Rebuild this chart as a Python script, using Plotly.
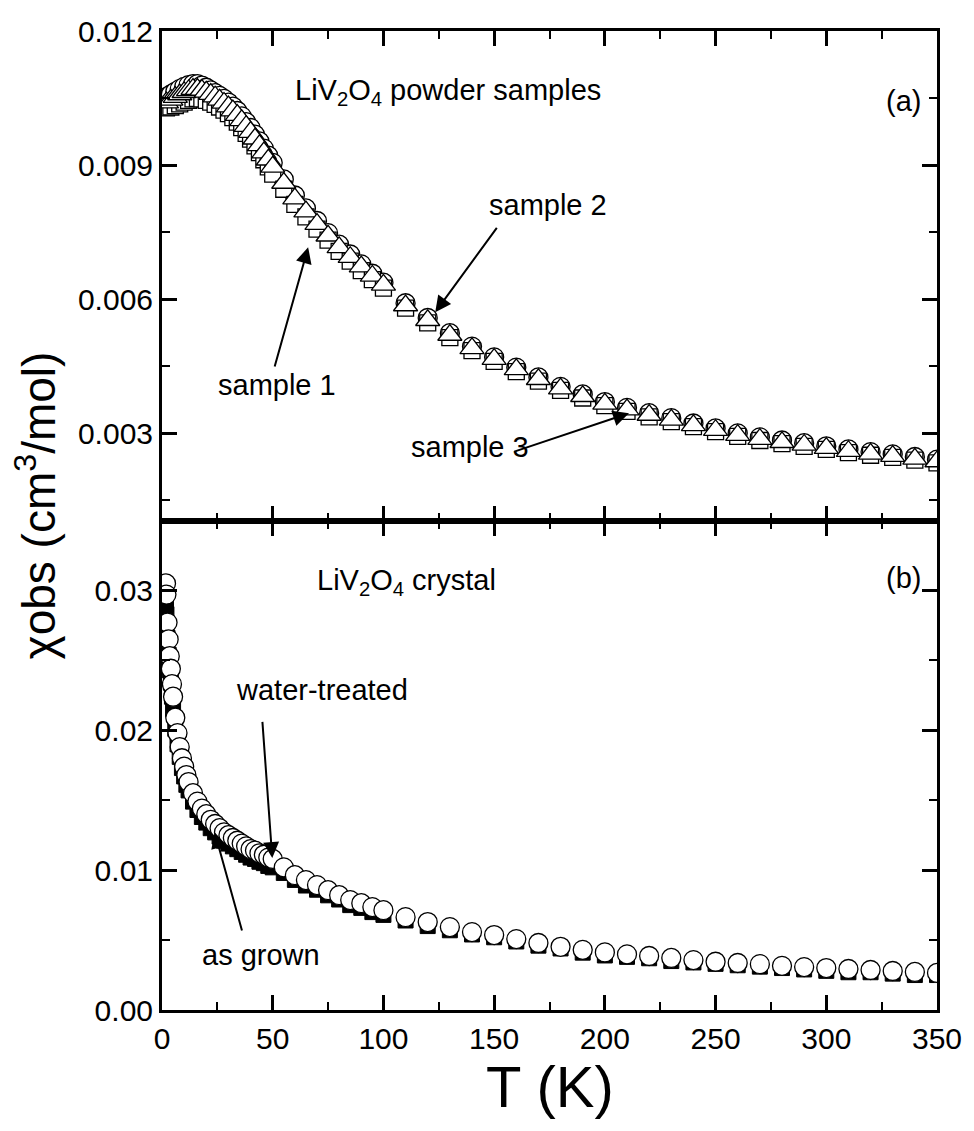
import plotly.graph_objects as go

# ---------------- data: panel (a) powder samples ----------------
T_powder = [2, 4, 6, 8, 10, 12, 14, 16, 18, 20, 22, 24, 26, 28, 30, 32, 34, 36, 38, 40,
            42, 44, 46, 48, 50, 55, 60, 65, 70, 75, 80, 85, 90, 95, 100,
            110, 120, 130, 140, 150, 160, 170, 180, 190, 200, 210, 220, 230, 240, 250,
            260, 270, 280, 290, 300, 310, 320, 330, 340, 350]

sample2_chi = [0.01052, 0.01058, 0.01064, 0.01070, 0.01075, 0.01079, 0.01081, 0.01081, 0.01078, 0.01073,
               0.01067, 0.01061, 0.01055, 0.01048, 0.01040, 0.01031, 0.01021, 0.01009, 0.00996, 0.00983,
               0.00968, 0.00953, 0.00937, 0.00921, 0.00905, 0.00868, 0.00832, 0.00803, 0.00775, 0.00748,
               0.00722, 0.00700, 0.00678, 0.00657, 0.00637,
               0.00591, 0.00558, 0.00524, 0.00494, 0.00470, 0.00447, 0.00425, 0.00404, 0.00387, 0.00370,
               0.00357, 0.00345, 0.00334, 0.00322, 0.00311, 0.00300, 0.00291, 0.00284, 0.00278, 0.00271,
               0.00264, 0.00258, 0.00253, 0.00247, 0.00241]

sample1_chi = [0.01040, 0.01046, 0.01052, 0.01058, 0.01063, 0.01067, 0.01070, 0.01070, 0.01068, 0.01064,
               0.01059, 0.01053, 0.01046, 0.01039, 0.01031, 0.01022, 0.01012, 0.01000, 0.00987, 0.00974,
               0.00959, 0.00944, 0.00928, 0.00912, 0.00896, 0.00860, 0.00825, 0.00796, 0.00768, 0.00742,
               0.00716, 0.00694, 0.00673, 0.00652, 0.00632,
               0.00586, 0.00553, 0.00520, 0.00490, 0.00466, 0.00443, 0.00421, 0.00400, 0.00383, 0.00366,
               0.00353, 0.00341, 0.00330, 0.00318, 0.00307, 0.00296, 0.00287, 0.00280, 0.00274, 0.00267,
               0.00260, 0.00254, 0.00249, 0.00243, 0.00237]

sample3_chi = [0.01028, 0.01030, 0.01033, 0.01037, 0.01041, 0.01045, 0.01048, 0.01049, 0.01048, 0.01045,
               0.01041, 0.01036, 0.01030, 0.01023, 0.01015, 0.01006, 0.00996, 0.00984, 0.00971, 0.00958,
               0.00943, 0.00928, 0.00912, 0.00896, 0.00880, 0.00846, 0.00812, 0.00784, 0.00757, 0.00732,
               0.00707, 0.00685, 0.00664, 0.00644, 0.00625,
               0.00580, 0.00547, 0.00514, 0.00485, 0.00461, 0.00438, 0.00417, 0.00396, 0.00379, 0.00362,
               0.00349, 0.00337, 0.00326, 0.00315, 0.00304, 0.00293, 0.00284, 0.00277, 0.00271, 0.00264,
               0.00257, 0.00251, 0.00246, 0.00240, 0.00234]

# ---------------- data: panel (b) crystal ----------------
T_crystal = [1.8, 2.0, 2.5, 3.0, 3.5, 4.0, 4.5, 5.0, 6, 7, 8, 9, 10, 11, 12, 14, 16, 18, 20, 22,
             24, 26, 28, 30, 32, 34, 36, 38, 40, 42, 44, 46, 48, 50, 55, 60, 65, 70, 75, 80,
             85, 90, 95, 100, 110, 120, 130, 140, 150, 160, 170, 180, 190, 200, 210, 220, 230,
             240, 250, 260, 270, 280, 290, 300, 310, 320, 330, 340, 350]

water_treated = [0.0305, 0.0297, 0.0277, 0.0265, 0.0253, 0.0244, 0.0233, 0.0224, 0.0209, 0.0198,
                 0.0188, 0.0180, 0.0174, 0.0168, 0.0163, 0.0155, 0.0149, 0.0144, 0.0140, 0.0136,
                 0.0133, 0.0130, 0.0127, 0.0125, 0.0123, 0.0121, 0.0119, 0.0117, 0.0115, 0.0114,
                 0.0112, 0.0111, 0.0109, 0.0108, 0.0102, 0.00964, 0.00929, 0.00893, 0.00857, 0.00821,
                 0.00786, 0.00764, 0.00736, 0.00714, 0.00664, 0.00629, 0.00593, 0.00557, 0.00536, 0.00507,
                 0.00479, 0.00452, 0.00430, 0.00412, 0.00398, 0.00386, 0.00372, 0.00357, 0.00345, 0.00336,
                 0.00328, 0.00316, 0.00307, 0.00300, 0.00293, 0.00286, 0.00279, 0.00272, 0.00265]

as_grown = [0.0290, 0.0283, 0.0266, 0.0254, 0.0243, 0.0234, 0.0224, 0.0215, 0.0201, 0.0190,
            0.0181, 0.0173, 0.0167, 0.0161, 0.0157, 0.0149, 0.0143, 0.0138, 0.0134, 0.0130,
            0.0127, 0.0124, 0.0121, 0.0119, 0.0117, 0.0115, 0.0113, 0.0111, 0.0109, 0.0108,
            0.0106, 0.0105, 0.0103, 0.0102, 0.0098, 0.0093, 0.0089, 0.0086, 0.0082, 0.0079,
            0.0075, 0.0073, 0.0070, 0.0068, 0.0064, 0.0060, 0.0057, 0.0054, 0.0052, 0.0049,
            0.0046, 0.0044, 0.0041, 0.0039, 0.0038, 0.0037, 0.0035, 0.0034, 0.0033, 0.0032,
            0.0031, 0.0030, 0.0029, 0.0028, 0.0027, 0.0027, 0.0026, 0.0025, 0.0025]

FONT = "Arial, Liberation Sans, sans-serif"

fig = go.Figure()

# panel (a)
fig.add_trace(go.Scatter(x=T_powder, y=sample2_chi, mode="markers", xaxis="x2", yaxis="y2",
                         marker=dict(symbol="circle", size=19, color="white",
                                     line=dict(color="black", width=1.3))))
fig.add_trace(go.Scatter(x=T_powder, y=sample3_chi, mode="markers", xaxis="x2", yaxis="y2",
                         marker=dict(symbol="square", size=16, color="white",
                                     line=dict(color="black", width=1.3))))
fig.add_trace(go.Scatter(x=T_powder, y=sample1_chi, mode="markers", xaxis="x2", yaxis="y2",
                         marker=dict(symbol="triangle-up", size=21, color="white",
                                     line=dict(color="black", width=1.3))))

# panel (b)
fig.add_trace(go.Scatter(x=T_crystal, y=as_grown, mode="markers", xaxis="x", yaxis="y",
                         marker=dict(symbol="square", size=15, color="black",
                                     line=dict(color="black", width=1))))
fig.add_trace(go.Scatter(x=T_crystal, y=water_treated, mode="markers", xaxis="x", yaxis="y",
                         marker=dict(symbol="circle", size=19, color="white",
                                     line=dict(color="black", width=1.3))))

axis_common = dict(showline=True, linewidth=3, linecolor="black", mirror="ticks",
                   ticks="inside", ticklen=15, tickwidth=2.5, tickcolor="black",
                   showgrid=False, zeroline=False,
                   tickfont=dict(family=FONT, size=30, color="black"))

fig.update_layout(
    width=974, height=1131,
    margin=dict(l=162, r=32, t=31, b=121),
    paper_bgcolor="white", plot_bgcolor="white",
    showlegend=False,
    font=dict(family=FONT, color="black"),
    xaxis=dict(axis_common, domain=[0, 1], range=[0, 350], dtick=50, tick0=0, anchor="y",
               minor=dict(ticks="inside", ticklen=8, tickwidth=2, dtick=25, tickcolor="black")),
    xaxis2=dict(axis_common, domain=[0, 1], range=[0, 350], dtick=50, tick0=0, anchor="y2",
                matches="x", showticklabels=False,
                minor=dict(ticks="inside", ticklen=8, tickwidth=2, dtick=25, tickcolor="black")),
    yaxis=dict(axis_common, domain=[0, 0.5], range=[0, 0.035], dtick=0.01, tick0=0,
               tickformat=".2f", anchor="x",
               minor=dict(ticks="inside", ticklen=8, tickwidth=2, dtick=0.005, tickcolor="black")),
    yaxis2=dict(axis_common, domain=[0.5, 1], range=[0.00105, 0.012], dtick=0.003, tick0=0,
                tickformat=".3f", anchor="x2",
                minor=dict(ticks="inside", ticklen=8, tickwidth=2, dtick=0.0015, tickcolor="black")),
)

TXT = dict(family=FONT, size=29, color="black")

def label(text, x, y, xref, yref, **kw):
    fig.add_annotation(text=text, x=x, y=y, xref=xref, yref=yref, showarrow=False,
                       font=TXT, xanchor="center", yanchor="middle", **kw)

def arrow(x_tip, y_tip, x_tail, y_tail, xref, yref):
    fig.add_annotation(text="", x=x_tip, y=y_tip, ax=x_tail, ay=y_tail,
                       xref=xref, yref=yref, axref=xref, ayref=yref,
                       showarrow=True, arrowhead=2, arrowsize=1.6, arrowwidth=2,
                       arrowcolor="black")

# panel (a) labels
label("LiV<sub>2</sub>O<sub>4</sub> powder samples", 129.2, 0.01064, "x2", "y2")
label("(a)", 334.7, 0.01043, "x2", "y2")
label("sample 2", 174.1, 0.0081, "x2", "y2")
label("sample 1", 52.0, 0.00408, "x2", "y2")
label("sample 3", 139.1, 0.00269, "x2", "y2")
arrow(123.4, 0.00571, 151.7, 0.00763, "x2", "y2")
arrow(66.0, 0.00716, 50.7, 0.00446, "x2", "y2")
arrow(210.9, 0.00345, 158.4, 0.00258, "x2", "y2")

# panel (b) labels
label("LiV<sub>2</sub>O<sub>4</sub> crystal", 110.4, 0.0306, "x", "y")
label("(b)", 334.7, 0.03086, "x", "y")
label("water-treated", 72.2, 0.02286, "x", "y")
label("as grown", 44.9, 0.00393, "x", "y")
arrow(49.8, 0.01086, 45.3, 0.02071, "x", "y")
arrow(23.8, 0.01271, 36.3, 0.00557, "x", "y")

# axis titles
fig.add_annotation(text="χobs (cm<sup>3</sup>/mol)", x=-0.163, y=0.515, xref="paper", yref="paper",
                   textangle=-90, showarrow=False, xanchor="center", yanchor="middle",
                   font=dict(family=FONT, size=46, color="black"))
fig.add_annotation(text="T (K)", x=0.5, y=-0.078, xref="paper", yref="paper",
                   showarrow=False, xanchor="center", yanchor="middle",
                   font=dict(family=FONT, size=58, color="black"))

fig.write_html("out.html")
